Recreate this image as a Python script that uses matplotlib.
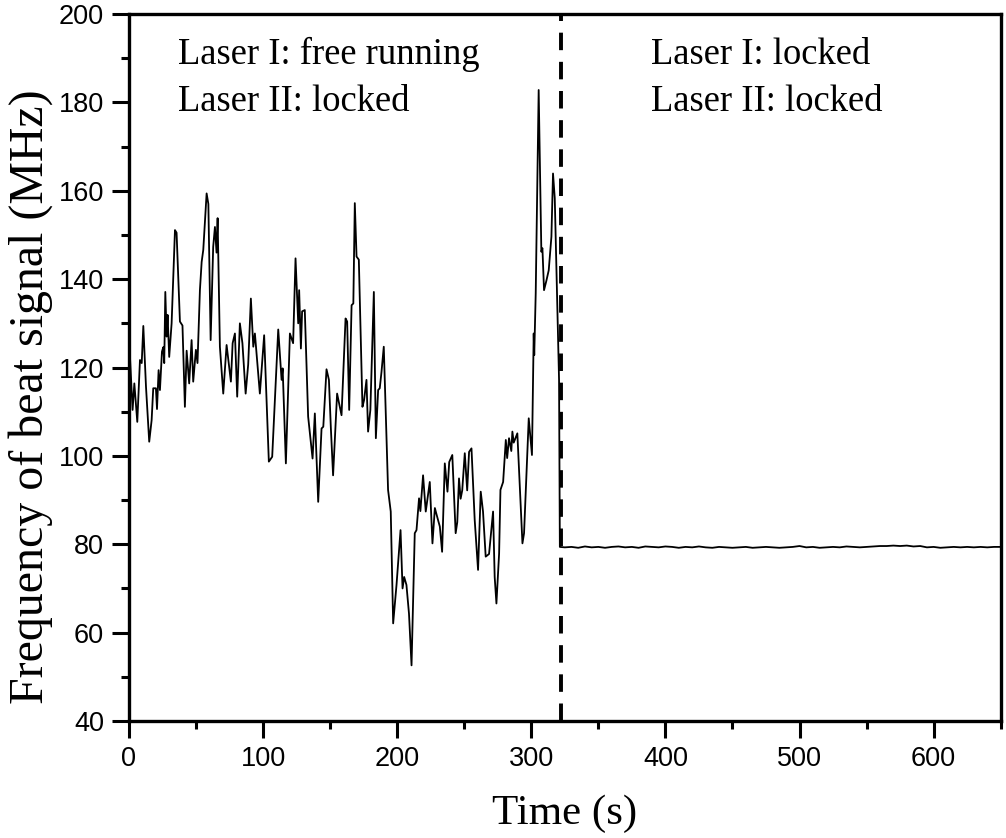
import matplotlib.pyplot as plt
from matplotlib.ticker import MultipleLocator

# free running part
t_free = [0, 2.7, 4, 6.2, 8.2, 9.5, 10.7, 12.7, 15.1, 16.9, 18.1, 20.1, 20.9, 22.1, 23.1,
          24.6, 25.6, 26.3, 27.1, 28.1, 28.8, 30, 31.8, 34.3, 35.5, 38, 39.9, 41.7, 43,
          44.9, 46.7, 47.9, 49.9, 51.1, 52.9, 54.2, 55.4, 57.9, 59.2, 60.9, 62.8, 64.1,
          65.3, 66.1, 67.8, 70.3, 72.8, 76, 77.3, 79, 80.7, 82.7, 84.6, 87, 88.9, 90.9,
          92.7, 93.9, 97.6, 100.8, 104.3, 106.8, 111.3, 113.8, 114.6, 117, 120, 122.4,
          124.2, 126.2, 126.9, 128.2, 129.1, 131.1, 133.6, 136.9, 138.6, 141.1, 143.6,
          144.9, 147.3, 149.1, 150.5, 152.2, 155.2, 158.5, 161.5, 162.7, 164.2, 166,
          167.3, 168.4, 169.7, 171.4, 174.1, 175.3, 177.1, 178.3, 180, 182.6, 184.1,
          185.8, 187, 188.3, 190, 193.2, 195.2, 197, 199.5, 202.5, 204, 205.2, 206.9,
          208.8, 210.7, 213.1, 214.4, 216.3, 217.3, 219.3, 221.3, 224.3, 226.3, 228.1,
          229.3, 231.8, 233.5, 235.5, 237.5, 238.8, 241.1, 243.6, 244.8, 246.1, 247.3,
          248.5, 250.4, 252.2, 253.6, 255.4, 257.8, 260.3, 262.3, 264, 266, 268.5,
          271.5, 272.7, 274, 276, 277, 279, 281, 282, 283.4, 285.1, 285.9, 286.9, 289.6,
          293.4, 294.6, 298.1, 300.5, 301.8, 302.2, 303.3, 305.5, 307.5, 308.3, 309.5,
          311.3, 313, 315, 316.2, 317.5, 320.7, 321.3]
f_free = [127, 110.4, 116.4, 107.7, 121.7, 121, 129.4, 115.6, 103.2, 108.1, 115.3, 115.3,
          110.6, 119.4, 114.9, 123.6, 124.6, 121, 137.1, 127, 131.9, 122.4, 130, 151.1,
          150.5, 130.4, 129.5, 111.1, 123.8, 116.4, 126.2, 116.8, 124, 121, 137.5, 143.9,
          146.6, 159.4, 157, 126.2, 147.3, 151.8, 146, 153.8, 124.7, 114.1, 125.1, 116.8,
          125.5, 127.7, 113.4, 130, 125.5, 114.1, 120.7, 135.6, 124.7, 127.7, 114.1,
          127.3, 98.7, 99.8, 128.6, 117.2, 119.8, 98.3, 127.7, 125.5, 144.7, 130, 137.5,
          124.3, 132.7, 133, 108.9, 99.4, 109.6, 89.6, 106.2, 106.6, 119.6, 117.2, 106.6,
          95.6, 114.1, 109.2, 131.1, 130.4, 110.4, 134.1, 134.5, 157.2, 145.1, 144.4,
          111.1, 112.6, 117.2, 105.5, 110.4, 137.1, 104, 114.9, 115.3, 119, 124.7, 92.3,
          87.4, 62.1, 70.8, 83.2, 70, 72.6, 70.8, 64.3, 52.6, 82.5, 83.2, 90.4, 87.5,
          95.6, 87.4, 94.1, 80.2, 88.2, 86.8, 84, 78.3, 98.3, 91.9, 98.6, 100.2, 82.5,
          85, 94.9, 90.3, 92.2, 100.6, 92.2, 100.9, 101.7, 85.5, 74.2, 91.9, 87.4, 77.2,
          77.8, 87.4, 72.6, 66.6, 77.9, 92.3, 94.1, 103.6, 99.5, 104, 101.1, 105.5, 103,
          105.1, 80.2, 82.5, 108.5, 100.2, 127.7, 122.8, 136.8, 182.8, 146.2, 147, 137.5,
          139.7, 142, 149.6, 163.9, 158.3, 117.2, 79.4]

# locked part, one reading every 5 s
t_lock = list(range(325, 651, 5))
f_lock = [79.3, 79.4, 79.2, 79.5, 79.3, 79.4, 79.2, 79.4, 79.5, 79.3, 79.4, 79.2, 79.5,
          79.4, 79.3, 79.5, 79.4, 79.2, 79.4, 79.3, 79.5, 79.3, 79.2, 79.4, 79.3, 79.2,
          79.3, 79.4, 79.2, 79.3, 79.4, 79.3, 79.2, 79.3, 79.4, 79.6, 79.3, 79.4, 79.2,
          79.3, 79.4, 79.3, 79.5, 79.4, 79.3, 79.4, 79.5, 79.6, 79.6, 79.7, 79.6, 79.7,
          79.5, 79.6, 79.3, 79.4, 79.2, 79.3, 79.4, 79.3, 79.4, 79.3, 79.4, 79.3, 79.4, 79.4]

t = t_free + t_lock
f = f_free + f_lock
t_switch = 322

fig = plt.figure(figsize=(10.06, 8.38), dpi=100)
ax = fig.add_axes([0.1282, 0.1396, 0.8665, 0.8437])

ax.plot(t, f, color='black', lw=1.3)
ax.axvline(t_switch, color='black', lw=2.8, linestyle=(0, (4.5, 3)))

ax.set_xlim(0, 650)
ax.set_ylim(40, 200)
ax.xaxis.set_major_locator(MultipleLocator(100))
ax.xaxis.set_minor_locator(MultipleLocator(50))
ax.yaxis.set_major_locator(MultipleLocator(20))
ax.yaxis.set_minor_locator(MultipleLocator(10))
ax.tick_params(which='major', direction='out', length=12, width=2.2, labelsize=19.5, pad=6)
ax.tick_params(which='minor', direction='out', length=6, width=2.2)
for lab in ax.get_xticklabels() + ax.get_yticklabels():
    lab.set_fontfamily('Liberation Sans')
for sp in ax.spines.values():
    sp.set_linewidth(2.4)

serif = {'family': 'Liberation Serif'}
ax.set_xlabel('Time (s)', fontdict=serif, fontsize=31, labelpad=16)
fig.text(31 / 1006, 1 - 397 / 838, 'Frequency of beat signal (MHz)', fontdict=serif,
         fontsize=34.5, rotation=90, ha='center', va='center')

ax.text(36.5, 185.5, 'Laser I: free running\nLaser II: locked', fontdict=serif, fontsize=26.4,
        va='center', linespacing=1.49)
ax.text(389.5, 185.5, 'Laser I: locked\nLaser II: locked', fontdict=serif, fontsize=26.4,
        va='center', linespacing=1.49)

fig.savefig('out.png', dpi=100)
